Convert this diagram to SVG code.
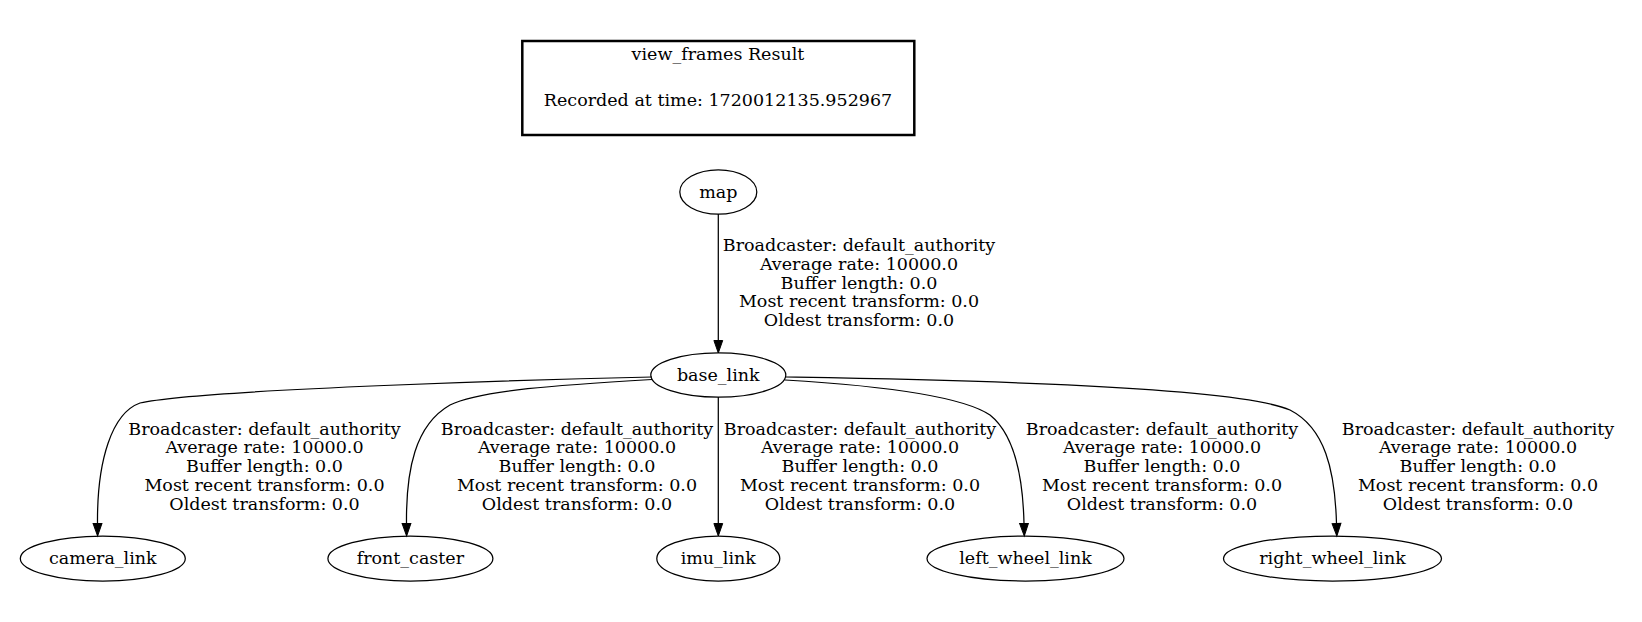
<svg xmlns="http://www.w3.org/2000/svg" width="1642" height="622" viewBox="0 0 1642 622">
<style>
  text { font-family: "DejaVu Serif", "Liberation Serif", serif; font-size: 17.5px; fill: #000; text-anchor: middle; }
  .node ellipse { fill: none; stroke: #000; stroke-width: 1.25; }
  .edge { fill: none; stroke: #000; stroke-width: 1.25; marker-end: url(#arrow); }
</style>
<defs>
  <marker id="arrow" markerUnits="userSpaceOnUse" markerWidth="14" markerHeight="10" refX="0" refY="5" orient="auto" overflow="visible">
    <path d="M0,0.6 L12.5,5 L0,9.4 z" fill="#000" stroke="#000" stroke-width="1"/>
  </marker>
</defs>
<rect width="1642" height="622" fill="#fff"/>

<g id="title">
  <rect x="522.3" y="41" width="392" height="94" fill="none" stroke="#000" stroke-width="2.5"/>
  <text x="718" y="59.5">view_frames Result</text>
  <text x="718" y="106">Recorded at time: 1720012135.952967</text>
</g>

<g id="connectors">
  <path class="edge" d="M718.3,214 L718.3,340.5"/>
  <path class="edge" d="M652,377 C560,379 200,389 140,403 C112,413 97,460 97.5,523.5"/>
  <path class="edge" d="M652,379.5 C560,385 480,390 450,405 C415,425 406,470 406.5,523.5"/>
  <path class="edge" d="M718.3,397 L718.3,523.5"/>
  <path class="edge" d="M785,380 C870,385 960,395 990,415 C1015,435 1023,480 1024,523.5"/>
  <path class="edge" d="M786,377 C900,379 1230,384 1290,410 C1325,428 1335,470 1336.5,523.5"/>
  <g id="edge-labels">
    <text><tspan x="859" y="251">Broadcaster: default_authority</tspan><tspan x="859" y="269.75">Average rate: 10000.0</tspan><tspan x="859" y="288.5">Buffer length: 0.0</tspan><tspan x="859" y="307.25">Most recent transform: 0.0</tspan><tspan x="859" y="326">Oldest transform: 0.0</tspan></text>
    <text><tspan x="264.5" y="434.5">Broadcaster: default_authority</tspan><tspan x="264.5" y="453.25">Average rate: 10000.0</tspan><tspan x="264.5" y="472">Buffer length: 0.0</tspan><tspan x="264.5" y="490.75">Most recent transform: 0.0</tspan><tspan x="264.5" y="509.5">Oldest transform: 0.0</tspan></text>
    <text><tspan x="577" y="434.5">Broadcaster: default_authority</tspan><tspan x="577" y="453.25">Average rate: 10000.0</tspan><tspan x="577" y="472">Buffer length: 0.0</tspan><tspan x="577" y="490.75">Most recent transform: 0.0</tspan><tspan x="577" y="509.5">Oldest transform: 0.0</tspan></text>
    <text><tspan x="860" y="434.5">Broadcaster: default_authority</tspan><tspan x="860" y="453.25">Average rate: 10000.0</tspan><tspan x="860" y="472">Buffer length: 0.0</tspan><tspan x="860" y="490.75">Most recent transform: 0.0</tspan><tspan x="860" y="509.5">Oldest transform: 0.0</tspan></text>
    <text><tspan x="1162" y="434.5">Broadcaster: default_authority</tspan><tspan x="1162" y="453.25">Average rate: 10000.0</tspan><tspan x="1162" y="472">Buffer length: 0.0</tspan><tspan x="1162" y="490.75">Most recent transform: 0.0</tspan><tspan x="1162" y="509.5">Oldest transform: 0.0</tspan></text>
    <text><tspan x="1478" y="434.5">Broadcaster: default_authority</tspan><tspan x="1478" y="453.25">Average rate: 10000.0</tspan><tspan x="1478" y="472">Buffer length: 0.0</tspan><tspan x="1478" y="490.75">Most recent transform: 0.0</tspan><tspan x="1478" y="509.5">Oldest transform: 0.0</tspan></text>
  </g>
</g>

<g id="map" class="node">
  <ellipse cx="718.3" cy="192" rx="38.5" ry="22.2"/>
  <text x="718.3" y="197.5">map</text>
</g>
<g id="base_link" class="node">
  <ellipse cx="718.3" cy="375" rx="67.5" ry="22.2"/>
  <text x="718.3" y="380.5">base_link</text>
</g>
<g id="camera_link" class="node">
  <ellipse cx="102.8" cy="558.5" rx="82.5" ry="22.5"/>
  <text x="102.8" y="564">camera_link</text>
</g>
<g id="front_caster" class="node">
  <ellipse cx="410.4" cy="558.5" rx="82.5" ry="22.5"/>
  <text x="410.4" y="564">front_caster</text>
</g>
<g id="imu_link" class="node">
  <ellipse cx="718.3" cy="558.5" rx="61.5" ry="22.5"/>
  <text x="718.3" y="564">imu_link</text>
</g>
<g id="left_wheel_link" class="node">
  <ellipse cx="1025.5" cy="558.5" rx="98.5" ry="22.5"/>
  <text x="1025.5" y="564">left_wheel_link</text>
</g>
<g id="right_wheel_link" class="node">
  <ellipse cx="1332.5" cy="558.5" rx="109" ry="22.5"/>
  <text x="1332.5" y="564">right_wheel_link</text>
</g>
</svg>
